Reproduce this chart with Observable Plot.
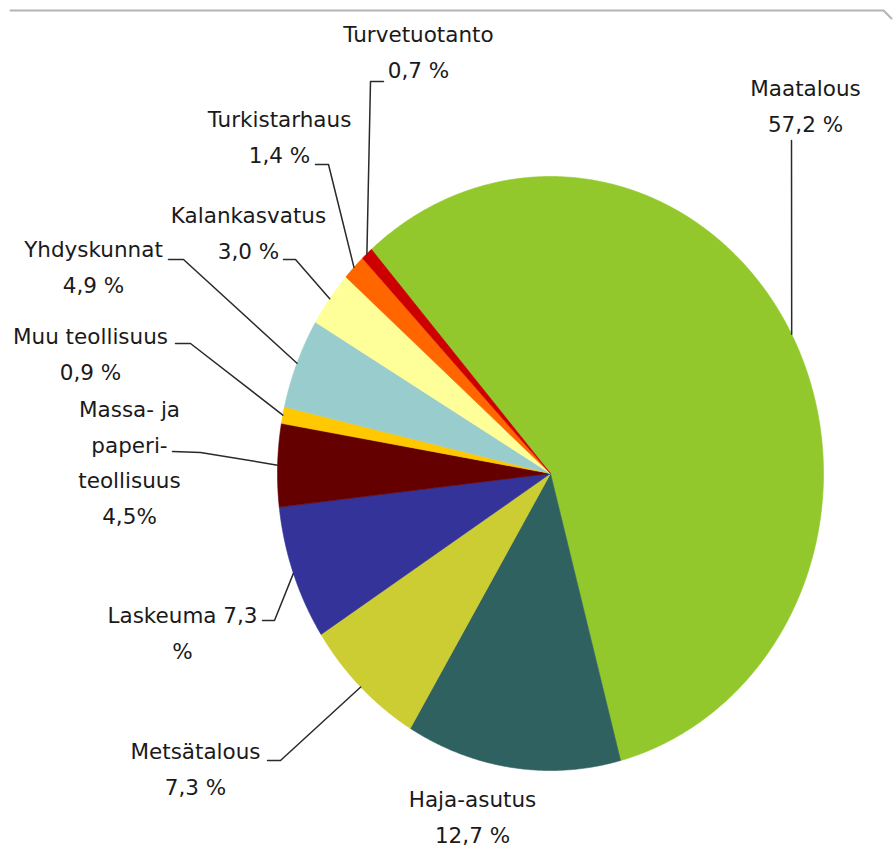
<!DOCTYPE html>
<html>
<head>
<meta charset="utf-8">
<script src="https://cdn.jsdelivr.net/npm/d3@7"></script>
<script src="https://cdn.jsdelivr.net/npm/@observablehq/plot@0.6"></script>
<style>
  html, body { margin: 0; padding: 0; background: #fff; }
  #chart svg { display: block; }
</style>
</head>
<body>
<div id="chart"></div>
<script>
// ---- data ----
const categories = ["Maatalous", "Haja-asutus", "Metsätalous", "Laskeuma", "Massa- ja paperiteollisuus",
  "Muu teollisuus", "Yhdyskunnat", "Kalankasvatus", "Turkistarhaus", "Turvetuotanto"];
const shares = [57.2, 12.7, 7.3, 7.3, 4.5, 0.9, 4.9, 3.0, 1.4, 0.7];
const labelTexts = [
  ["Maatalous", "57,2 %"],
  ["Haja-asutus", "12,7 %"],
  ["Metsätalous", "7,3 %"],
  ["Laskeuma 7,3", "%"],
  ["Massa- ja", "paperi-", "teollisuus", "4,5%"],
  ["Muu teollisuus", "0,9 %"],
  ["Yhdyskunnat", "4,9 %"],
  ["Kalankasvatus", "3,0 %"],
  ["Turkistarhaus", "1,4 %"],
  ["Turvetuotanto", "0,7 %"]
];

// ---- style ----
const colors = ["#92c82c", "#2f6160", "#cccc33", "#333399", "#640000",
  "#ffc800", "#99cccc", "#ffff99", "#ff6600", "#cc0000"];

// ---- layout ----
const W = 896, H = 851;
const cx = 550, cy = 473, rx = 273, ry = 297;
const startDeg = -41;
const lineGap = 35.5;
// label anchor (center x, first line center y)
const labelPos = [
  [805, 89], [472, 800], [195, 752], [182, 616], [129, 410],
  [90, 337], [93, 250], [248, 216], [279, 120], [418, 35]
];
// leader line points on the label side (pie side is computed)
const leaderPts = [
  [[791, 140]],
  null,
  [[267, 760], [280, 760]],
  [[262, 620], [274, 620]],
  [[172, 451], [200, 452]],
  [[175, 343], [190, 343]],
  [[168, 259], [183, 259]],
  [[283, 259], [295, 259]],
  [[315, 164], [328, 164]],
  [[383, 81], [370, 81]]
];

const pt = (a) => ({x: cx + rx * Math.sin(a), y: cy - ry * Math.cos(a)});

const start = startDeg * Math.PI / 180;
const arcs = d3.pie().sort(null).value(d => d).startAngle(start).endAngle(start + 2 * Math.PI)(shares);

const marks = [];
// slices
arcs.forEach((a, i) => {
  const pts = [{x: cx, y: cy}];
  const n = Math.max(4, Math.ceil((a.endAngle - a.startAngle) / (0.4 * Math.PI / 180)));
  for (let k = 0; k <= n; k++) pts.push(pt(a.startAngle + (a.endAngle - a.startAngle) * k / n));
  pts.push({x: cx, y: cy});
  marks.push(Plot.line(pts, {x: "x", y: "y", fill: colors[i], stroke: colors[i], strokeWidth: 0.6}));
});

// leader lines
arcs.forEach((a, i) => {
  if (!leaderPts[i]) return;
  const mid = (a.startAngle + a.endAngle) / 2;
  const edge = pt(mid);
  const pts = leaderPts[i].map(([x, y]) => ({x, y})).concat([edge]);
  marks.push(Plot.line(pts, {x: "x", y: "y", stroke: "#2a2a2a", strokeWidth: 1.5}));
});

// labels
const labelRows = [];
labelTexts.forEach((lines, i) => {
  lines.forEach((t, j) => labelRows.push({x: labelPos[i][0], y: labelPos[i][1] + j * lineGap, t, cat: categories[i]}));
});
marks.push(Plot.text(labelRows, {
  x: "x", y: "y", text: "t", textAnchor: "middle", fill: "#1a1a1a",
  fontSize: 21.5, fontFamily: "DejaVu Sans, sans-serif"
}));

// top frame line
marks.push(Plot.line([{x: 10, y: 10}, {x: 883, y: 10}, {x: 891, y: 18}], {x: "x", y: "y", stroke: "#b4b4b4", strokeWidth: 2}));

const chart = Plot.plot({
  width: W, height: H,
  margin: 0,
  style: {background: "#fff", overflow: "visible"},
  x: {domain: [0, W], range: [0, W], axis: null},
  y: {domain: [0, H], range: [0, H], axis: null},
  marks
});
document.getElementById("chart").appendChild(chart);
</script>
</body>
</html>
